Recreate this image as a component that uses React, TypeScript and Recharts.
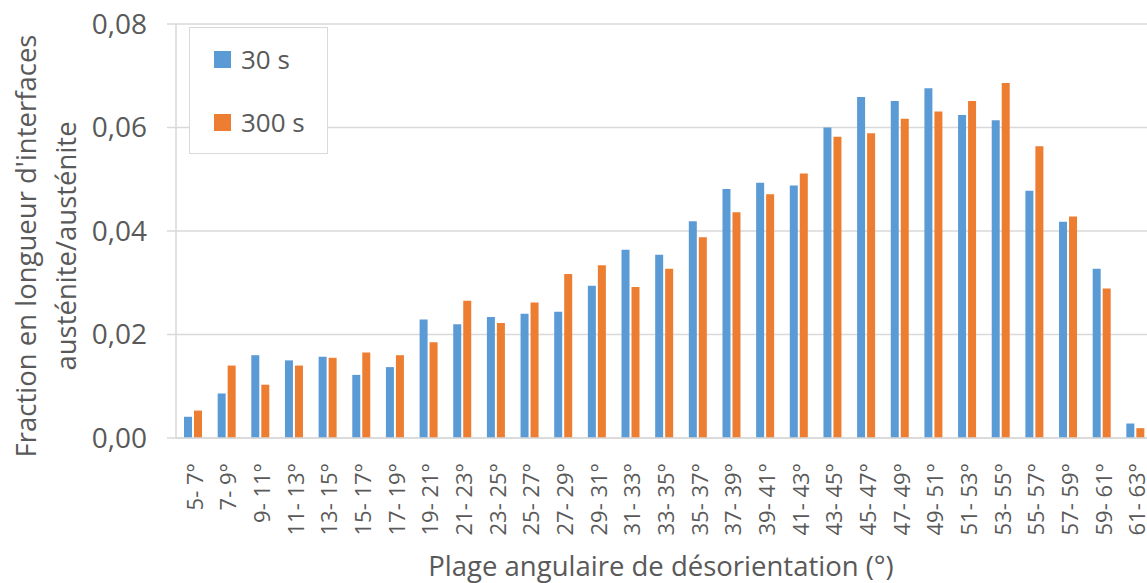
import React from 'react';
import { BarChart, Bar, XAxis, YAxis, CartesianGrid, Legend, Label } from 'recharts';

const categories = [
  '5- 7°', '7- 9°', '9- 11°', '11- 13°', '13- 15°', '15- 17°', '17- 19°', '19- 21°',
  '21- 23°', '23- 25°', '25- 27°', '27- 29°', '29- 31°', '31- 33°', '33- 35°', '35- 37°',
  '37- 39°', '39- 41°', '41- 43°', '43- 45°', '45- 47°', '47- 49°', '49- 51°', '51- 53°',
  '53- 55°', '55- 57°', '57- 59°', '59- 61°', '61- 63°',
];

const series30s = [
  0.0041, 0.0086, 0.0160, 0.0150, 0.0157, 0.0122, 0.0137, 0.0229,
  0.0220, 0.0234, 0.0240, 0.0244, 0.0294, 0.0364, 0.0354, 0.0419,
  0.0481, 0.0493, 0.0488, 0.0600, 0.0659, 0.0651, 0.0676, 0.0624,
  0.0614, 0.0478, 0.0418, 0.0327, 0.0028,
];

const series300s = [
  0.0053, 0.0140, 0.0103, 0.0140, 0.0155, 0.0165, 0.0160, 0.0185,
  0.0265, 0.0222, 0.0262, 0.0317, 0.0334, 0.0292, 0.0327, 0.0388,
  0.0436, 0.0471, 0.0511, 0.0582, 0.0589, 0.0617, 0.0631, 0.0651,
  0.0686, 0.0564, 0.0428, 0.0289, 0.0019,
];

const yTicks = [0, 0.02, 0.04, 0.06, 0.08];
const seriesNames = ['30 s', '300 s'];
const colors = ['#5B9BD5', '#ED7D31'];

const data = categories.map((c, i) => ({ cat: c, s30: series30s[i], s300: series300s[i] }));

const FONT = "'Open Sans', sans-serif";
const TEXT = '#595959';
const GRID = '#D9D9D9';

const XTick = (props: any) => {
  const { x, y, payload } = props;
  return (
    <text
      transform={`translate(${x + 1},${y + 17}) rotate(-90)`}
      textAnchor="end"
      dominantBaseline="central"
      fill={TEXT}
      fontSize={22}
      fontFamily={FONT}
    >
      {payload.value}
    </text>
  );
};

const YLabel = (props: any) => {
  const vb = props.viewBox || {};
  const cy = vb.y + vb.height / 2 + 15;
  return (
    <g>
      <text
        transform={`translate(${25},${cy}) rotate(-90)`}
        textAnchor="middle"
        dominantBaseline="central"
        fill={TEXT}
        fontSize={27.5}
        fontFamily={FONT}
      >
        Fraction en longueur d'interfaces
      </text>
      <text
        transform={`translate(${65},${cy}) rotate(-90)`}
        textAnchor="middle"
        dominantBaseline="central"
        fill={TEXT}
        fontSize={27.5}
        fontFamily={FONT}
      >
        austénite/austénite
      </text>
    </g>
  );
};

const XLabel = (props: any) => {
  const vb = props.viewBox || {};
  return (
    <text
      x={661}
      y={vb.y + vb.height - 7}
      textAnchor="middle"
      fill={TEXT}
      fontSize={27.5}
      fontFamily={FONT}
    >
      Plage angulaire de désorientation (°)
    </text>
  );
};

const LegendContent = () => (
  <div
    style={{
      width: 139,
      height: 127,
      boxSizing: 'border-box',
      border: `1.5px solid ${GRID}`,
      background: '#fff',
      position: 'relative',
      fontFamily: FONT,
    }}
  >
    {seriesNames.map((n, i) => (
      <div key={n} style={{ position: 'absolute', left: 24, top: 23 + i * 63, display: 'flex', alignItems: 'center' }}>
        <div style={{ width: 17, height: 17, background: colors[i] }} />
        <span style={{ marginLeft: 10, fontSize: 26, color: TEXT, lineHeight: '17px' }}>{n}</span>
      </div>
    ))}
  </div>
);

export default function App() {
  return (
    <div style={{ position: 'absolute', left: 0, top: 0, width: 1147, height: 583, overflow: 'hidden', background: '#fff' }}>
      <BarChart
        width={1152}
        height={583}
        data={data}
        margin={{ top: 24, right: 0, left: 0, bottom: 0 }}
        barSize={8}
        barGap={2}
      >
        <CartesianGrid vertical={false} stroke={GRID} strokeWidth={1.5} />
        <XAxis
          dataKey="cat"
          height={145}
          interval={0}
          tickLine={false}
          axisLine={{ stroke: GRID, strokeWidth: 1.5 }}
          tick={<XTick />}
        >
          <Label content={<XLabel />} />
        </XAxis>
        <YAxis
          width={176}
          domain={[0, 0.08]}
          ticks={yTicks}
          interval={0}
          tickSize={9}
          tickMargin={20}
          tickLine={{ stroke: GRID, strokeWidth: 1.5 }}
          axisLine={{ stroke: GRID, strokeWidth: 1.5 }}
          tickFormatter={(v: number) => v.toFixed(2).replace('.', ',')}
          tick={{ fill: TEXT, fontSize: 28, fontFamily: FONT }}
        >
          <Label content={<YLabel />} />
        </YAxis>
        <Legend
          layout="vertical"
          align="center"
          verticalAlign="middle"
          content={<LegendContent />}
          wrapperStyle={{ position: 'absolute', left: 189, top: 27, width: 139, height: 127, right: 'auto', bottom: 'auto' }}
        />
        <Bar dataKey="s30" name={seriesNames[0]} fill={colors[0]} isAnimationActive={false} />
        <Bar dataKey="s300" name={seriesNames[1]} fill={colors[1]} isAnimationActive={false} />
      </BarChart>
    </div>
  );
}
